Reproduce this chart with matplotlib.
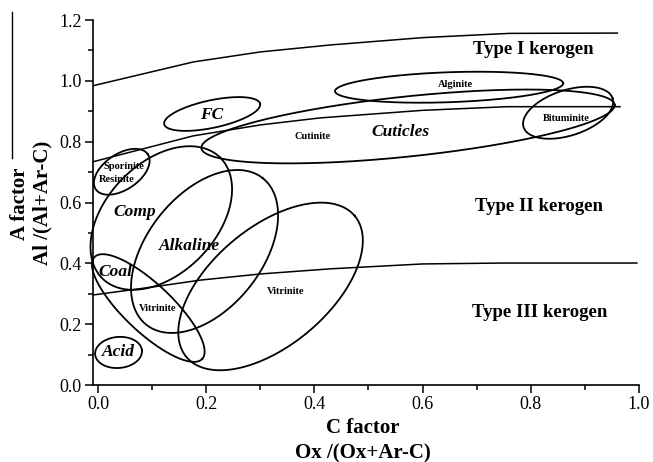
import numpy as np
import matplotlib
matplotlib.use('Agg')
import matplotlib.pyplot as plt
from matplotlib.lines import Line2D
from matplotlib.ticker import MultipleLocator

plt.rcParams['font.family'] = ['Liberation Serif', 'DejaVu Serif']

# kerogen type boundaries
type1_x = [-0.009, 0.176, 0.30, 0.43, 0.60, 0.76, 0.96]
type1_y = [0.984, 1.062, 1.095, 1.118, 1.142, 1.156, 1.157]
type2_x = [-0.009, 0.176, 0.30, 0.41, 0.60, 0.756, 0.965]
type2_y = [0.734, 0.819, 0.855, 0.878, 0.903, 0.915, 0.915]
type3_x = [-0.009, 0.10, 0.19, 0.30, 0.43, 0.60, 0.75, 0.996]
type3_y = [0.296, 0.322, 0.345, 0.365, 0.382, 0.398, 0.401, 0.401]

# fields: centre (C, A), semi axes (in C-factor units as drawn), tilt in degrees
field_names = ['Acid', 'Comp', 'Alkaline', 'Coal', 'Vitrinite', 'Sporinite',
               'FC', 'Cuticles', 'Alginite', 'Bituminite']
field_cx = [0.038, 0.117, 0.197, 0.093, 0.319, 0.044, 0.211, 0.573, 0.649, 0.869]
field_cy = [0.107, 0.549, 0.439, 0.253, 0.324, 0.701, 0.891, 0.850, 0.979, 0.895]
field_a = [0.0434, 0.156, 0.173, 0.137, 0.203, 0.058, 0.0906, 0.384, 0.211, 0.0865]
field_b = [0.0287, 0.102, 0.106, 0.0445, 0.109, 0.033, 0.0255, 0.0555, 0.0277, 0.042]
field_ang = [5, 46, 51.5, -43.4, 40, 34, 12, 6, 2, 18]

big_labels = ['FC', 'Cuticles', 'Comp', 'Alkaline', 'Coal', 'Acid']
big_lx = [0.211, 0.560, 0.068, 0.170, 0.033, 0.037]
big_ly = [0.888, 0.832, 0.569, 0.457, 0.372, 0.109]
small_labels = ['Vitrinite', 'Vitrinite', 'Sporinite', 'Resinite', 'Cutinite', 'Alginite', 'Bituminite']
small_lx = [0.111, 0.346, 0.048, 0.035, 0.396, 0.660, 0.865]
small_ly = [0.250, 0.306, 0.717, 0.674, 0.816, 0.987, 0.875]
type_labels = ['Type I kerogen', 'Type II kerogen', 'Type III kerogen']
type_lx = [0.804, 0.815, 0.817]
type_ly = [1.102, 0.586, 0.240]

W, H = 653, 462
fig = plt.figure(figsize=(W / 100, H / 100), dpi=100)
ax = fig.add_axes([93 / W, 1 - 385 / H, (639 - 93) / W, (385 - 20) / H])
xmin, xmax, ymin, ymax = -0.0092, 1.0, 0.0, 1.2
ax.set_xlim(xmin, xmax)
ax.set_ylim(ymin, ymax)

# ratio to turn visual offsets (C units) into A units
px_x = ax.get_position().width * W / (xmax - xmin)
px_y = ax.get_position().height * H / (ymax - ymin)
k = px_x / px_y


def ellipse(cx, cy, a, b, ang):
    t = np.linspace(0, 2 * np.pi, 300)
    th = np.radians(ang)
    dx = a * np.cos(t) * np.cos(th) - b * np.sin(t) * np.sin(th)
    dy = a * np.cos(t) * np.sin(th) + b * np.sin(t) * np.cos(th)
    return cx + dx, cy + dy * k


lw = 1.1
for xs, ys in [(type1_x, type1_y), (type2_x, type2_y), (type3_x, type3_y)]:
    ax.plot(xs, ys, color='black', lw=lw)

for i in range(len(field_names)):
    ex, ey = ellipse(field_cx[i], field_cy[i], field_a[i], field_b[i], field_ang[i])
    ax.plot(ex, ey, color='black', lw=lw + 0.2, clip_on=False)

for s, x, y in zip(big_labels, big_lx, big_ly):
    ax.text(x, y, s, fontsize=12.5, fontweight='bold', fontstyle='italic', ha='center', va='center')
for s, x, y in zip(small_labels, small_lx, small_ly):
    ax.text(x, y, s, fontsize=7.5, fontweight='bold', ha='center', va='center')
for s, x, y in zip(type_labels, type_lx, type_ly):
    ax.text(x, y, s, fontsize=13.5, fontweight='bold', ha='center', va='center')

for side in ['top', 'right']:
    ax.spines[side].set_visible(False)
for side in ['left', 'bottom']:
    ax.spines[side].set_linewidth(1.2)
ax.xaxis.set_major_locator(MultipleLocator(0.2))
ax.xaxis.set_minor_locator(MultipleLocator(0.1))
ax.yaxis.set_major_locator(MultipleLocator(0.2))
ax.yaxis.set_minor_locator(MultipleLocator(0.1))
ax.set_xticks(np.arange(0, 1.01, 0.2))
ax.set_xticklabels(['%.1f' % v for v in np.arange(0, 1.01, 0.2)])
ax.set_yticks(np.arange(0, 1.21, 0.2))
ax.set_yticklabels(['%.1f' % v for v in np.arange(0, 1.21, 0.2)])
ax.tick_params(which='major', direction='out', length=6, width=1.1, labelsize=13, pad=2)
ax.tick_params(which='minor', direction='out', length=3.6, width=1.1)

fig.text(363 / W, 1 - 428 / H, 'C factor', fontsize=15, fontweight='bold', ha='center', va='center')
fig.text(363 / W, 1 - 453 / H, 'Ox /(Ox+Ar-C)', fontsize=15, fontweight='bold', ha='center', va='center')
fig.text(20 / W, 1 - 204 / H, 'A factor', fontsize=15, fontweight='bold', rotation=90, ha='center', va='center')
fig.text(42 / W, 1 - 203 / H, 'Al /(Al+Ar-C)', fontsize=15, fontweight='bold', rotation=90, ha='center', va='center')
fig.add_artist(Line2D([12 / W, 12 / W], [1 - 12 / H, 1 - 158 / H], color='black', lw=1))

plt.savefig('out.png', dpi=100)
